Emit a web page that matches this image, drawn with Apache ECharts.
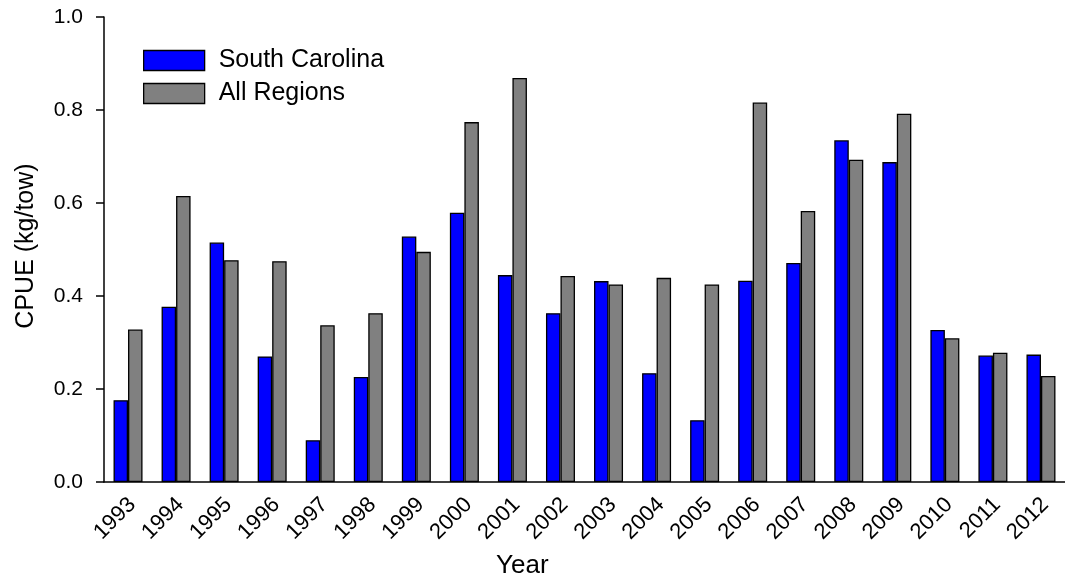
<!DOCTYPE html>
<html>
<head>
<meta charset="utf-8">
<script src="https://cdn.jsdelivr.net/npm/echarts@6/dist/echarts.min.js"></script>
<style>
  html, body { margin: 0; padding: 0; background: #fff; }
  #chart { width: 1065px; height: 581px; }
</style>
</head>
<body>
<div id="chart"></div>
<script>
// Catch per unit effort by survey year
const years = ['1993','1994','1995','1996','1997','1998','1999','2000','2001','2002',
               '2003','2004','2005','2006','2007','2008','2009','2010','2011','2012'];
const southCarolina = [0.176, 0.377, 0.515, 0.270, 0.090, 0.226, 0.528, 0.579, 0.445, 0.363,
                       0.432, 0.234, 0.133, 0.433, 0.471, 0.735, 0.688, 0.327, 0.272, 0.274];
const allRegions    = [0.328, 0.615, 0.477, 0.475, 0.337, 0.363, 0.495, 0.774, 0.869, 0.443,
                       0.425, 0.439, 0.425, 0.816, 0.583, 0.693, 0.792, 0.309, 0.278, 0.228];
const yTicks = [0, 0.2, 0.4, 0.6, 0.8, 1.0];

const FONT = "'Liberation Sans', Arial, sans-serif";
const chart = echarts.init(document.getElementById('chart'), null, { renderer: 'canvas' });

const barStyle = (color) => ({ color: color, borderColor: '#000', borderWidth: 1.3 });

chart.setOption({
  animation: false,
  backgroundColor: '#fff',
  grid: { left: 104, top: 17, width: 962, height: 465, containLabel: false },
  legend: {
    orient: 'vertical',
    left: 138, top: 43,
    itemWidth: 61, itemHeight: 20, itemGap: 8,
    icon: 'rect',
    itemStyle: { borderColor: '#000', borderWidth: 1.3 },
    textStyle: { fontFamily: FONT, fontSize: 25, color: '#000', padding: [0, 0, 0, 9] },
    data: ['South Carolina', 'All Regions']
  },
  xAxis: {
    type: 'category',
    data: years,
    boundaryGap: true,
    axisLine: { lineStyle: { color: '#000', width: 1.5 } },
    axisTick: { alignWithLabel: true, length: 9, lineStyle: { color: '#000', width: 1.5 } },
    axisLabel: {
      rotate: 45, interval: 0, margin: 15, verticalAlign: 'top', lineHeight: 12,
      fontFamily: FONT, fontSize: 22, color: '#000'
    },
    splitLine: { show: false }
  },
  yAxis: {
    type: 'value',
    min: yTicks[0], max: yTicks[yTicks.length - 1], interval: 0.2,
    axisLine: { show: true, lineStyle: { color: '#000', width: 1.5 } },
    axisTick: { show: true, length: 8, lineStyle: { color: '#000', width: 1.5 } },
    axisLabel: {
      margin: 21, fontFamily: FONT, fontSize: 21, color: '#000',
      formatter: (v) => v.toFixed(1)
    },
    splitLine: { show: false }
  },
  graphic: [
    {
      type: 'text', left: 496, top: 553,
      style: { text: 'Year', font: '26px ' + FONT, fill: '#000' }
    },
    {
      type: 'text', x: 26, y: 246, rotation: Math.PI / 2,
      style: { text: 'CPUE (kg/tow)', font: '25px ' + FONT, fill: '#000',
               align: 'center', verticalAlign: 'middle' }
    }
  ],
  series: [
    {
      name: 'South Carolina', type: 'bar', data: southCarolina,
      barWidth: 14.5, barGap: '0%',
      itemStyle: barStyle('#0000ff')
    },
    {
      name: 'All Regions', type: 'bar', data: allRegions,
      barWidth: 14.5, barGap: '0%',
      itemStyle: barStyle('#808080')
    }
  ]
});
</script>
</body>
</html>
